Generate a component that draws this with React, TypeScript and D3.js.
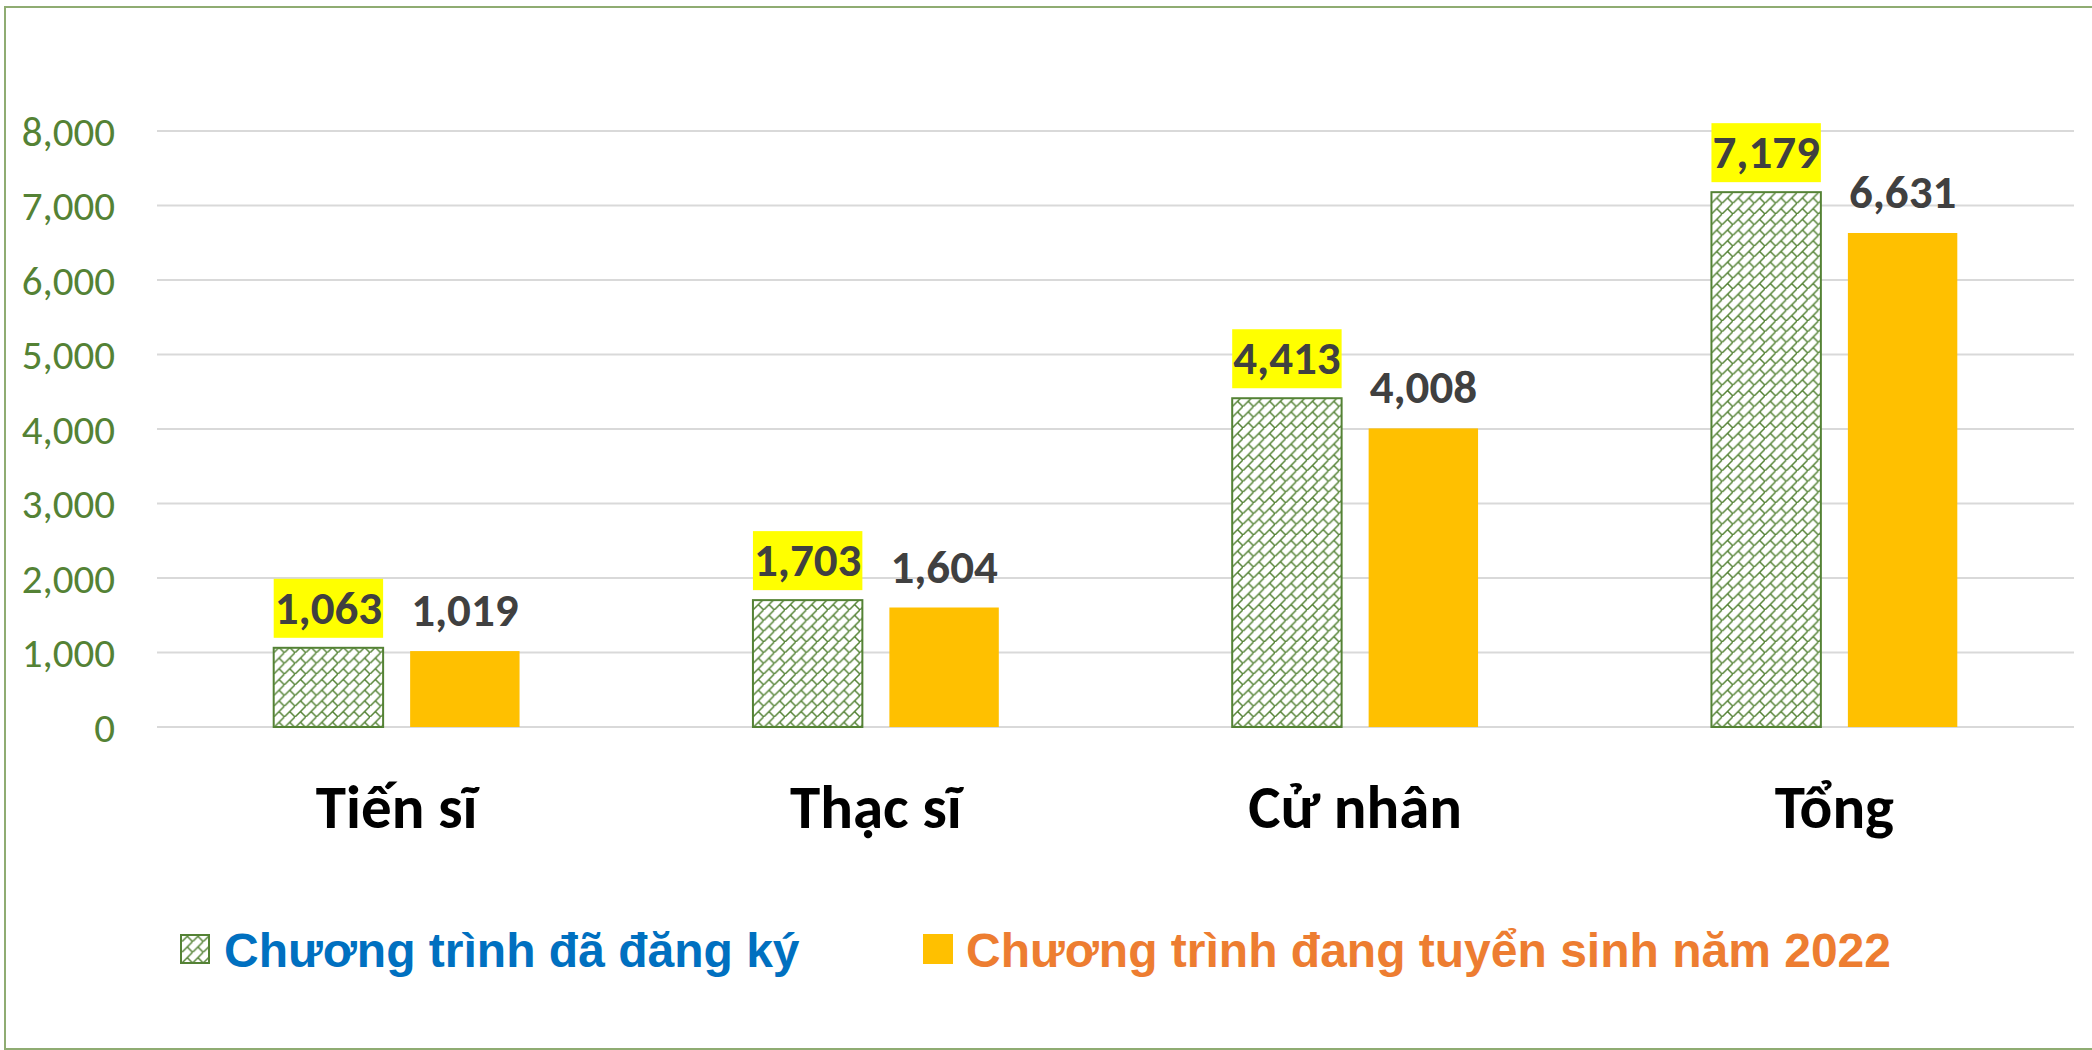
// @ts-nocheck
import { useEffect, useRef } from 'react'
import * as d3 from 'd3'

const categories = ['Tiến sĩ', 'Thạc sĩ', 'Cử nhân', 'Tổng']
const registered = [1063, 1703, 4413, 7179]
const recruiting = [1019, 1604, 4008, 6631]
const yTicks = [0, 1000, 2000, 3000, 4000, 5000, 6000, 7000, 8000]
const seriesNames = ['Chương trình đã đăng ký', 'Chương trình đang tuyển sinh năm 2022']

export default function App() {
  const svgRef = useRef<any>()
  const width = 2092
  const height = 1050

  useEffect(() => {
    const svg = d3.select(svgRef.current)
    svg.selectAll('*').remove()

    const green = '#548235'
    const orange = '#FFC000'

    // hatch pattern (diagonal brick)
    const defs = svg.append('defs')
    const s = 10.7
    const pat = defs
      .append('pattern')
      .attr('id', 'brick')
      .attr('patternUnits', 'userSpaceOnUse')
      .attr('width', s)
      .attr('height', s)
    pat.append('rect').attr('width', s).attr('height', s).attr('fill', '#fff')
    pat
      .append('path')
      .attr('d', `M${-1},${s + 1}L${s + 1},${-1}M${s / 2},${s / 2}L${s},${s}`)
      .attr('stroke', green)
      .attr('stroke-width', 1.5)
      .attr('fill', 'none')

    // outer border
    svg
      .append('rect')
      .attr('x', 5)
      .attr('y', 7)
      .attr('width', 2100)
      .attr('height', 1042)
      .attr('fill', 'none')
      .attr('stroke', '#8fac72')
      .attr('stroke-width', 2)

    const x0 = d3.scaleBand().domain(categories).range([157, 2074]).paddingInner(0.487).paddingOuter(0.2435)
    const x1 = d3.scaleBand().domain(['a', 'b']).range([0, x0.bandwidth()]).paddingInner(0.198)
    const y = d3.scaleLinear().domain([0, 8000]).range([727, 131])

    // gridlines
    svg
      .append('g')
      .selectAll('line')
      .data(yTicks)
      .enter()
      .append('line')
      .attr('x1', 157)
      .attr('x2', 2074)
      .attr('y1', (d) => y(d))
      .attr('y2', (d) => y(d))
      .attr('stroke', '#d9d9d9')
      .attr('stroke-width', 2)

    // y tick labels
    svg
      .append('g')
      .selectAll('text')
      .data(yTicks)
      .enter()
      .append('text')
      .attr('x', 115)
      .attr('y', (d) => y(d))
      .attr('dy', '0.36em')
      .attr('text-anchor', 'end')
      .attr('font-family', 'Carlito, Lato, sans-serif')
      .attr('font-size', 41)
      .attr('fill', green)
      .text((d) => d3.format(',')(d))

    const groups = svg
      .append('g')
      .selectAll('g')
      .data(categories)
      .enter()
      .append('g')
      .attr('transform', (d) => `translate(${x0(d)},0)`)

    // hatched bars
    groups
      .append('rect')
      .attr('x', x1('a'))
      .attr('y', (d, i) => y(registered[i]))
      .attr('width', x1.bandwidth())
      .attr('height', (d, i) => y(0) - y(registered[i]))
      .attr('fill', 'url(#brick)')
      .attr('stroke', green)
      .attr('stroke-width', 2)

    // orange bars
    groups
      .append('rect')
      .attr('x', x1('b'))
      .attr('y', (d, i) => y(recruiting[i]))
      .attr('width', x1.bandwidth())
      .attr('height', (d, i) => y(0) - y(recruiting[i]))
      .attr('fill', orange)

    // highlighted labels
    groups
      .append('rect')
      .attr('x', x1('a'))
      .attr('y', (d, i) => y(registered[i]) - 69)
      .attr('width', x1.bandwidth())
      .attr('height', 59)
      .attr('fill', '#FFFF00')

    groups
      .append('text')
      .attr('x', x1('a') + x1.bandwidth() / 2)
      .attr('y', (d, i) => y(registered[i]) - 24)
      .attr('text-anchor', 'middle')
      .attr('font-family', 'Carlito, Lato, sans-serif')
      .attr('font-weight', 'bold')
      .attr('font-size', 47)
      .attr('fill', '#404040')
      .text((d, i) => d3.format(',')(registered[i]))

    groups
      .append('text')
      .attr('x', x1('b') + x1.bandwidth() / 2)
      .attr('y', (d, i) => y(recruiting[i]) - 25)
      .attr('text-anchor', 'middle')
      .attr('font-family', 'Carlito, Lato, sans-serif')
      .attr('font-weight', 'bold')
      .attr('font-size', 47)
      .attr('fill', '#404040')
      .text((d, i) => d3.format(',')(recruiting[i]))

    // category labels
    groups
      .append('text')
      .attr('x', x0.bandwidth() / 2)
      .attr('y', 828)
      .attr('text-anchor', 'middle')
      .attr('font-family', 'Carlito, Lato, sans-serif')
      .attr('font-weight', 'bold')
      .attr('font-size', 61)
      .attr('fill', '#000')
      .text((d) => d)

    // legend
    const lg = svg.append('g')
    lg.append('rect')
      .attr('x', 181)
      .attr('y', 935)
      .attr('width', 28)
      .attr('height', 28)
      .attr('fill', 'url(#brick)')
      .attr('stroke', green)
      .attr('stroke-width', 2)
    lg.append('text')
      .attr('x', 224)
      .attr('y', 967)
      .attr('font-family', 'Liberation Sans, Arial, sans-serif')
      .attr('font-weight', 'bold')
      .attr('font-size', 48)
      .attr('fill', '#0070C0')
      .text(seriesNames[0])
    lg.append('rect')
      .attr('x', 923)
      .attr('y', 934)
      .attr('width', 30)
      .attr('height', 30)
      .attr('fill', orange)
    lg.append('text')
      .attr('x', 966)
      .attr('y', 967)
      .attr('font-family', 'Liberation Sans, Arial, sans-serif')
      .attr('font-weight', 'bold')
      .attr('font-size', 48)
      .attr('fill', '#ED7D31')
      .text(seriesNames[1])
  }, [])

  return (
    <svg
      ref={svgRef}
      style={{ position: 'absolute', left: 0, top: 0, background: '#fff' }}
      width={width}
      height={height}
    ></svg>
  )
}
